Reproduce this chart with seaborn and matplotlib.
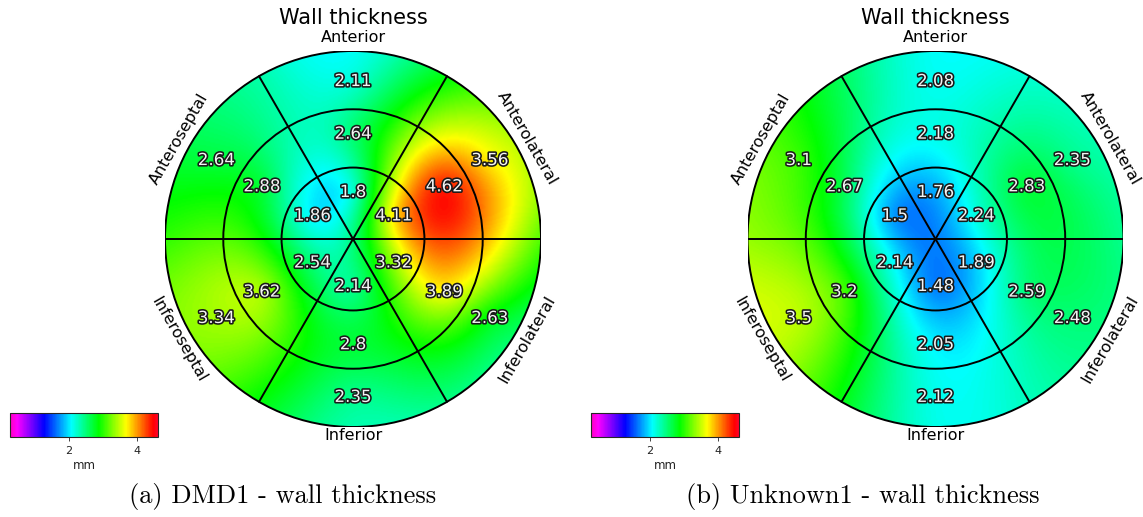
import numpy as np
import matplotlib.pyplot as plt
import matplotlib.patheffects as pe
from matplotlib.patches import Circle
import seaborn as sns

# segment order: clockwise from the top
sectors = ["Anterior", "Anterolateral", "Inferolateral", "Inferior", "Inferoseptal", "Anteroseptal"]
sector_angles = [90, 30, -30, -90, -150, 150]

dmd1_outer = [2.11, 3.56, 2.63, 2.35, 3.34, 2.64]
dmd1_middle = [2.64, 4.62, 3.89, 2.8, 3.62, 2.88]
dmd1_inner = [1.8, 4.11, 3.32, 2.14, 2.54, 1.86]

unk1_outer = [2.08, 2.35, 2.48, 2.12, 3.5, 3.1]
unk1_middle = [2.18, 2.83, 2.59, 2.05, 3.2, 2.67]
unk1_inner = [1.76, 2.24, 1.89, 1.48, 2.14, 1.5]

captions = ["(a) DMD1 - wall thickness", "(b) Unknown1 - wall thickness"]
vmin, vmax = 0.27, 4.62

ring_edges = [1.0, 0.69, 0.38]
label_r = [0.84, 0.56, 0.25]

sns.set_style("white")
cmap = sns.color_palette("gist_rainbow_r", as_cmap=True)


def tps_field(px, py, vals, gx, gy, lam=0.0):
    # (smoothed) thin plate spline through the segment values
    def phi(r):
        out = np.zeros_like(r)
        m = r > 0
        out[m] = r[m] ** 2 * np.log(r[m])
        return out
    n = len(vals)
    d = np.hypot(px[:, None] - px[None, :], py[:, None] - py[None, :])
    P = np.column_stack([np.ones(n), px, py])
    A = np.zeros((n + 3, n + 3))
    A[:n, :n] = phi(d) + lam * np.eye(n)
    A[:n, n:] = P
    A[n:, :n] = P.T
    b = np.concatenate([vals, np.zeros(3)])
    sol = np.linalg.solve(A, b)
    w, a = sol[:n], sol[n:]
    dg = np.hypot(gx[..., None] - px, gy[..., None] - py)
    return phi(dg) @ w + a[0] + a[1] * gx + a[2] * gy


def bullseye(ax, outer, middle, inner):
    rings = [outer, middle, inner]
    px, py, pv = [], [], []
    for r, ring in zip(label_r, rings):
        for ang, v in zip(sector_angles, ring):
            t = np.deg2rad(ang)
            px.append(r * np.cos(t))
            py.append(r * np.sin(t))
            pv.append(v)
    n_lab = len(pv)
    # anchor the rim to the outer segment values (centres and borders)
    for k, (ang, v) in enumerate(zip(sector_angles, outer)):
        nxt = outer[(k + 1) % 6]
        for a_, val in [(ang, v), (ang - 30, 0.5 * (v + nxt))]:
            t = np.deg2rad(a_)
            px.append(np.cos(t))
            py.append(np.sin(t))
            pv.append(val)
    px, py, pv = np.array(px), np.array(py), np.array(pv)

    g = np.linspace(-1, 1, 300)
    gx, gy = np.meshgrid(g, g)
    field = tps_field(px, py, pv, gx, gy, lam=0.06)
    im = ax.imshow(field, origin="lower", extent=[-1, 1, -1, 1], cmap=cmap,
                   vmin=vmin, vmax=vmax, interpolation="bilinear")
    clip = Circle((0, 0), 1.0, transform=ax.transData, facecolor="none")
    im.set_clip_path(clip)

    for r in ring_edges:
        ax.add_patch(Circle((0, 0), r, fill=False, ec="black", lw=1.4))
    for ang in [0, 60, 120, 180, 240, 300]:
        t = np.deg2rad(ang)
        ax.plot([0, np.cos(t)], [0, np.sin(t)], color="black", lw=1.4)

    stroke = [pe.withStroke(linewidth=2.3, foreground="#1a1a1a")]
    for x, y, v in zip(px[:n_lab], py[:n_lab], pv[:n_lab]):
        ax.text(x, y, f"{v:g}", ha="center", va="center", fontsize=12,
                color="#f4f4f4", path_effects=stroke)

    for name, ang in zip(sectors, sector_angles):
        t = np.deg2rad(ang)
        if ang == 90:
            ax.text(0, 1.07, name, ha="center", va="center", fontsize=11.5, color="black")
        elif ang == -90:
            ax.text(0, -1.045, name, ha="center", va="center", fontsize=11.5, color="black")
        else:
            rot = ang - 90 if ang > 0 else ang + 90
            ax.text(1.07 * np.cos(t), 1.07 * np.sin(t), name, ha="center", va="center",
                    rotation=rot, rotation_mode="anchor", fontsize=11.5, color="black")
    ax.text(0, 1.175, "Wall thickness", ha="center", va="center", fontsize=15, color="black")

    ax.set_xlim(-1, 1)
    ax.set_ylim(-1, 1)
    ax.set_aspect("equal")
    ax.axis("off")
    return im


W, H = 1143, 517
fig = plt.figure(figsize=(W / 100, H / 100), dpi=100)

data = [(dmd1_outer, dmd1_middle, dmd1_inner), (unk1_outer, unk1_middle, unk1_inner)]
centers_x = [353, 935.5]
cbar_x = [10, 591]
cap_x = [283, 863]
R = 188
cy = 239

for i, (o, m, n) in enumerate(data):
    ax = fig.add_axes([(centers_x[i] - R) / W, (H - cy - R) / H, 2 * R / W, 2 * R / H])
    im = bullseye(ax, o, m, n)
    cax = fig.add_axes([cbar_x[i] / W, (H - 437) / H, 148 / W, 24 / H])
    cb = fig.colorbar(im, cax=cax, orientation="horizontal", ticks=[2, 4])
    cb.outline.set_linewidth(0.8)
    cax.tick_params(labelsize=8, length=3, width=0.6, colors="#222222")
    cb.set_label("mm", fontsize=8.5, labelpad=2, color="#222222")
    fig.text(cap_x[i] / W, 1 - 497 / H, captions[i], ha="center", va="center",
             fontsize=19, family="cmr10", color="black")

fig.savefig("out.png", dpi=100)
